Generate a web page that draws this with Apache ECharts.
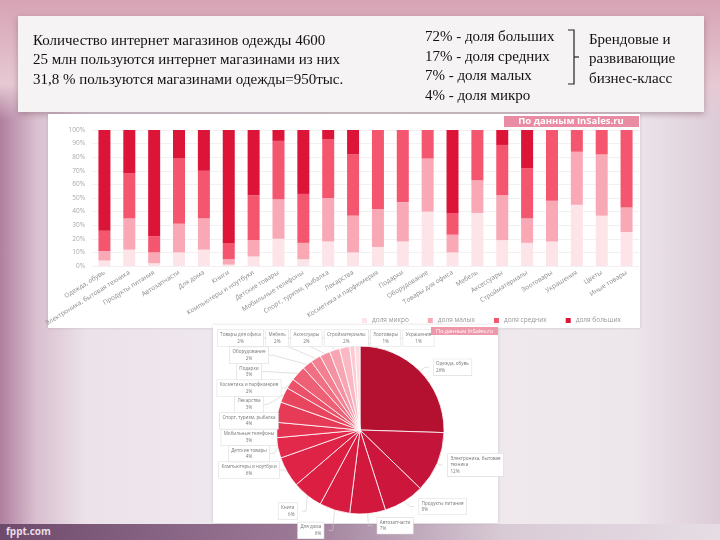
<!DOCTYPE html>
<html><head><meta charset="utf-8">
<script src="https://cdn.jsdelivr.net/npm/echarts@6/dist/echarts.min.js"></script>
<style>
html,body{margin:0;padding:0;}
#wrap{position:relative;width:720px;height:540px;overflow:hidden;
background:linear-gradient(to right,#b07f9f 0%,#d9bfcf 5%,#ece3ea 12%,#f1ecf0 50%,#ede6eb 88%,#dccbd7 100%);}
#top{position:absolute;left:0;top:0;width:720px;height:120px;background:linear-gradient(to bottom,#d7a3b4,#e6c9d3 70%,rgba(230,210,220,0));}
#bot{position:absolute;left:0;top:524px;width:720px;height:16px;background:linear-gradient(to right,#6e4a6c,#9a7895 40%,#d9cbd6 70%,#e6dde4);}
#fp{position:absolute;left:6px;top:524px;font:bold 10px "Open Sans",sans-serif;color:#e9dde7;}
#c{position:absolute;left:0;top:0;width:720px;height:540px;}
</style></head>
<body><div id="wrap"><div id="top"></div><div id="bot"></div><div id="fp">fppt.com</div><div id="c"></div></div>
<script>
const categories = ['Одежда, обувь','Электроника, бытовая техника','Продукты питания','Автозапчасти','Для дома','Книги','Компьютеры и ноутбуки','Детские товары','Мобильные телефоны','Спорт, туризм, рыбалка','Лекарства','Косметика и парфюмерия','Подарки','Оборудование','Товары для офиса','Мебель','Аксессуары','Стройматериалы','Зоотовары','Украшения','Цветы','Иные товары'];
const seriesNames = ['доля микро','доля малых','доля средних','доля больших'];
const micro  = [4,12,2,10,12,1,7,20,5,18,10,14,18,40,10,39,19,17,18,45,37,25];
const small  = [7,23,8,21,23,4,12,29,12,32,27,28,29,39,13,24,33,18,30,39,45,18];
const medium = [15,33,12,48,35,12,33,43,36,43,45,58,53,21,16,37,37,37,52,16,18,57];
const large  = [74,32,78,21,30,83,48,8,47,7,18,0,0,0,61,0,11,28,0,0,0,0];
const yTicks = [0,10,20,30,40,50,60,70,80,90,100];

const pieNames  = ['Одежда, обувь','Электроника, бытовая техника','Продукты питания','Автозапчасти','Для дома','Книги','Компьютеры и ноутбуки','Детские товары','Мобильные телефоны','Спорт, туризм, рыбалка','Лекарства','Косметика и парфюмерия','Подарки','Оборудование','Товары для офиса','Мебель','Аксессуары','Стройматериалы','Зоотовары','Украшения'];
const pieValues = [26,12,8,7,6,6,6,4,3,4,3,2,3,2,2,2,2,2,1,1];

const leftLines = ['Количество интернет магазинов одежды 4600','25 млн пользуются интернет магазинами из них','31,8 % пользуются магазинами одежды=950тыс.'];
const midLines = ['72% - доля больших','17% - доля средних','7% - доля малых','4% - доля микро'];
const rightLines = ['Брендовые и','развивающие','бизнес-класс'];

const barColors = ['#fde4e9','#f9a9b6','#f4566f','#dc1538'];
const pieColors = ['#b3112f','#c4143a','#cd163c','#d3183e','#d81b40','#dc1e43','#df2347','#e2294b','#e43250','#e63b57','#e8465f','#eb5269','#ed6075','#f06f82','#f28091','#f592a2','#f7a5b3','#f9b8c3','#fbcad2','#fcdbe1'];

const chart = echarts.init(document.getElementById('c'), null, {renderer:'canvas'});
const serif = '"Liberation Serif","DejaVu Serif",serif';
const graphics = [
  {type:'rect', shape:{x:18,y:16,width:686,height:96}, style:{fill:'#f6f3f5',shadowBlur:6,shadowColor:'rgba(80,40,60,0.35)',shadowOffsetY:2}, z:-10},
  {type:'rect', shape:{x:48,y:114,width:592,height:214}, style:{fill:'#ffffff',shadowBlur:3,shadowColor:'rgba(0,0,0,0.15)'}, z:-10},
  {type:'rect', shape:{x:213,y:325,width:285,height:198}, style:{fill:'#ffffff',shadowBlur:3,shadowColor:'rgba(0,0,0,0.15)'}, z:-10},
  {type:'rect', shape:{x:504,y:116,width:135,height:11}, style:{fill:'#e98ba2'}, z:5},
  {type:'text', style:{x:571,y:121.5,text:'По данным InSales.ru',fill:'#fff',font:'bold 9.5px "Open Sans",sans-serif',align:'center',verticalAlign:'middle'}, z:6},
  {type:'rect', shape:{x:431,y:327,width:67,height:8}, style:{fill:'#ee98ab'}, z:5},
  {type:'text', style:{x:464.5,y:331,text:'По данным InSales.ru',fill:'#fff',font:'5.5px "Open Sans",sans-serif',align:'center',verticalAlign:'middle'}, z:6},
  {type:'polyline', shape:{points:[[568,30],[574,30],[574,84],[568,84]]}, style:{stroke:'#222',lineWidth:1.2,fill:null}, z:5},
  {type:'line', shape:{x1:574,y1:57,x2:579,y2:57}, style:{stroke:'#222',lineWidth:1.2}, z:5}
];
leftLines.forEach((t,i)=>graphics.push({type:'text',style:{x:33,y:41+i*19.5,text:t,fill:'#111',font:'15px '+serif,verticalAlign:'middle'},z:5}));
midLines.forEach((t,i)=>graphics.push({type:'text',style:{x:425,y:37.5+i*19.5,text:t,fill:'#111',font:'15px '+serif,verticalAlign:'middle'},z:5}));
rightLines.forEach((t,i)=>graphics.push({type:'text',style:{x:589,y:40+i*19.5,text:t,fill:'#111',font:'15px '+serif,verticalAlign:'middle'},z:5}));

const barData = [micro, small, medium, large];
const barSeries = barData.map((d,i)=>({
  name: seriesNames[i], type:'bar', stack:'s', data:d, barWidth:12,
  itemStyle:{color:barColors[i]}, xAxisIndex:0, yAxisIndex:0
}));

// label arrangement: left column and top row, as in the source infographic
const COL_X = 249, COL_Y0 = 470, COL_STEP = 16.4;   // indices 6..13
const ROW_Y = 338, ROW_LEFT = 217, ROW_GAP = 1.5;    // indices 14..19, laid out left to right
let rowCursor = ROW_LEFT;
function pieLabelLayout(p){
  const i = p.dataIndex;
  if (p.seriesIndex !== 4) return {};
  if (i >= 6 && i <= 13) return {x: COL_X, y: COL_Y0 - (i-6)*COL_STEP, align:'center', verticalAlign:'middle'};
  if (i >= 14) {
    if (i === 14) rowCursor = ROW_LEFT;
    const w = p.labelRect.width;
    const x = rowCursor + w/2;
    rowCursor += w + ROW_GAP;
    return {x: x, y: ROW_Y, align:'center', verticalAlign:'middle'};
  }
  return {};
}
function wrapName(n){
  if (n.length <= 22) return n;
  const k = n.lastIndexOf(' ');
  return n.slice(0,k) + '\n' + n.slice(k+1);
}

chart.setOption({
  animation:false,
  graphic: graphics,
  legend:{data:seriesNames, left:357, top:312, itemWidth:5, itemHeight:5, itemGap:19, icon:'rect',
    textStyle:{fontSize:6.5, color:'#999', fontFamily:'"Open Sans",sans-serif'}},
  grid:{left:92, right:81, top:130, bottom:274, containLabel:false},
  xAxis:{type:'category', data:categories, axisLine:{show:false}, axisTick:{show:false},
    axisLabel:{interval:0, rotate:32, fontSize:6.5, color:'#8a8a8a', margin:6, fontFamily:'"Open Sans",sans-serif'}},
  yAxis:{type:'value', min:0, max:100, interval:10,
    axisLabel:{formatter:v=>yTicks.includes(v)?v+'%':'', fontSize:6.5, color:'#aaa', margin:7, fontFamily:'"Open Sans",sans-serif'},
    splitLine:{lineStyle:{color:'#f1f1f1'}}, axisLine:{show:false}, axisTick:{show:false}},
  series: barSeries.concat([{
    type:'pie', center:[360,430], radius:[0,84], startAngle:90, clockwise:true,
    data: pieNames.map((n,i)=>({name:n, value:pieValues[i], itemStyle:{color:pieColors[i]}})),
    itemStyle:{borderColor:'#fff', borderWidth:0.8},
    label:{formatter:p=>wrapName(p.name)+'\n'+p.value+'%', fontSize:4.6, color:'#777', lineHeight:6.5, align:'center',
      backgroundColor:'#fff', borderColor:'#ddd', borderWidth:0.6, padding:[1.5,2.5], fontFamily:'"Open Sans",sans-serif'},
    labelLine:{length:6, length2:4, lineStyle:{color:'#ccc', width:0.6}},
    labelLayout: pieLabelLayout
  }])
});
</script></body></html>
